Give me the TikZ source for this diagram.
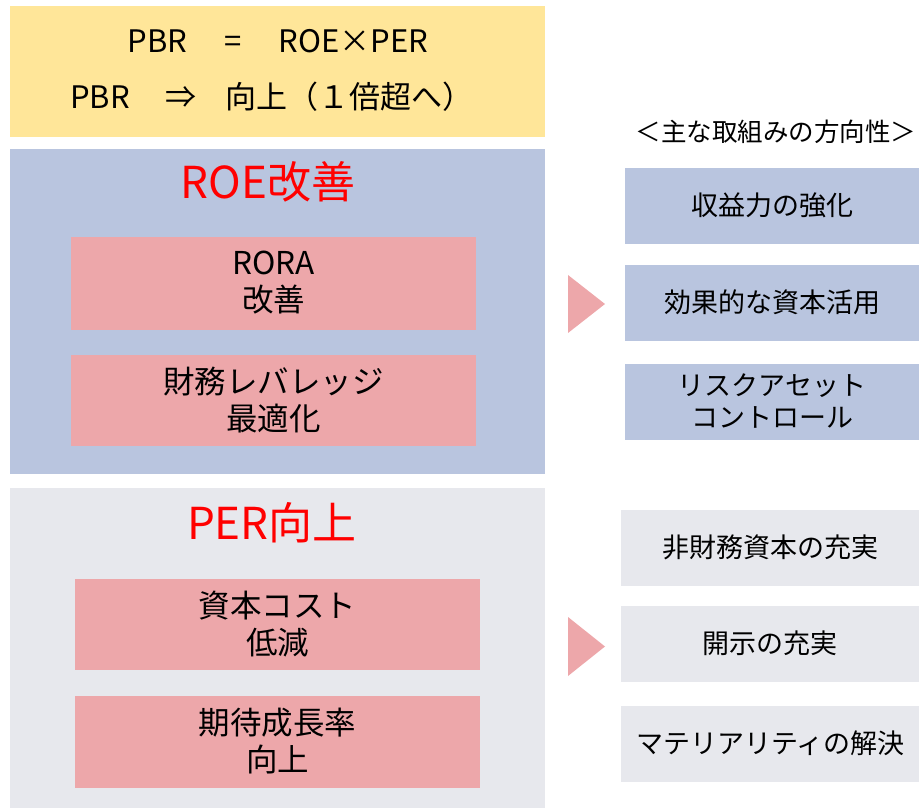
\documentclass[tikz,border=0pt]{standalone}
\usepackage{fontspec}
\setmainfont{Noto Sans CJK JP}
\definecolor{cyellow}{HTML}{FFE699}
\definecolor{cblue}{HTML}{B9C5DF}
\definecolor{cpink}{HTML}{EDA7AA}
\definecolor{cgrey}{HTML}{E7E8ED}
\definecolor{cred}{HTML}{FF0000}
\begin{document}
\begin{tikzpicture}[x=1pt,y=-1pt,
  panel/.style={rectangle, inner sep=0pt, anchor=north west, align=center},
  bigtxt/.style={font=\fontsize{31}{37}\selectfont, align=center, inner sep=0pt},
  lefttxt/.style={panel, fill=cpink, minimum width=405pt, font=\fontsize{31.5}{37}\selectfont, text depth=4pt},
  righttxt/.style={panel, minimum width=294pt, minimum height=76pt, font=\fontsize{27}{32}\selectfont, text depth=4pt},
  title/.style={font=\fontsize{44}{48}\selectfont, text=cred, inner sep=0pt},
  tri/.style={fill=cpink}]
\useasboundingbox (0,0) rectangle (919,810);
% top formula box
\node[panel, fill=cyellow, minimum width=535pt, minimum height=131pt] (top) at (10,6) {};
\node[bigtxt] (f1) at (278,41) {PBR\hspace{1.2em}=\hspace{1.2em}ROE×PER};
\node[bigtxt] (f2) at (272,97) {PBR\hspace{1.15em}⇒\hspace{0.95em}向上（１倍超へ）};
% ROE panel
\node[panel, fill=cblue, minimum width=535pt, minimum height=325pt] (roe) at (10,149) {};
\node[title] (roet) at (268,182) {ROE改善};
\node[lefttxt, minimum height=93pt] (rora) at (71,237) {RORA\\改善};
\node[lefttxt, minimum height=91pt] (lev) at (71,355) {財務レバレッジ\\最適化};
% PER panel
\node[panel, fill=cgrey, minimum width=535pt, minimum height=320pt] (per) at (10,488) {};
\node[title] (pert) at (272,523) {PER向上};
\node[lefttxt, minimum height=91pt] (coc) at (75,579) {資本コスト\\低減};
\node[lefttxt, minimum height=92pt] (gro) at (75,696) {期待成長率\\向上};
% arrows
\fill[tri] (568,275) -- (605,304) -- (568,333) -- cycle;
\fill[tri] (568,617) -- (605,646.5) -- (568,676) -- cycle;
% right header
\node[font=\fontsize{25.5}{30}\selectfont, inner sep=0pt] (hdr) at (776,132) {＜主な取組みの方向性＞};
% right blue boxes
\node[righttxt, fill=cblue] (r1) at (625,168) {収益力の強化};
\node[righttxt, fill=cblue] (r2) at (625,265) {効果的な資本活用};
\node[righttxt, fill=cblue] (r3) at (625,364) {リスクアセット\\コントロール};
% right grey boxes
\node[righttxt, fill=cgrey, minimum width=298pt] (g1) at (621,510) {非財務資本の充実};
\node[righttxt, fill=cgrey, minimum width=298pt] (g2) at (621,606) {開示の充実};
\node[righttxt, fill=cgrey, minimum width=298pt] (g3) at (621,706) {マテリアリティの解決};
\end{tikzpicture}
\end{document}
